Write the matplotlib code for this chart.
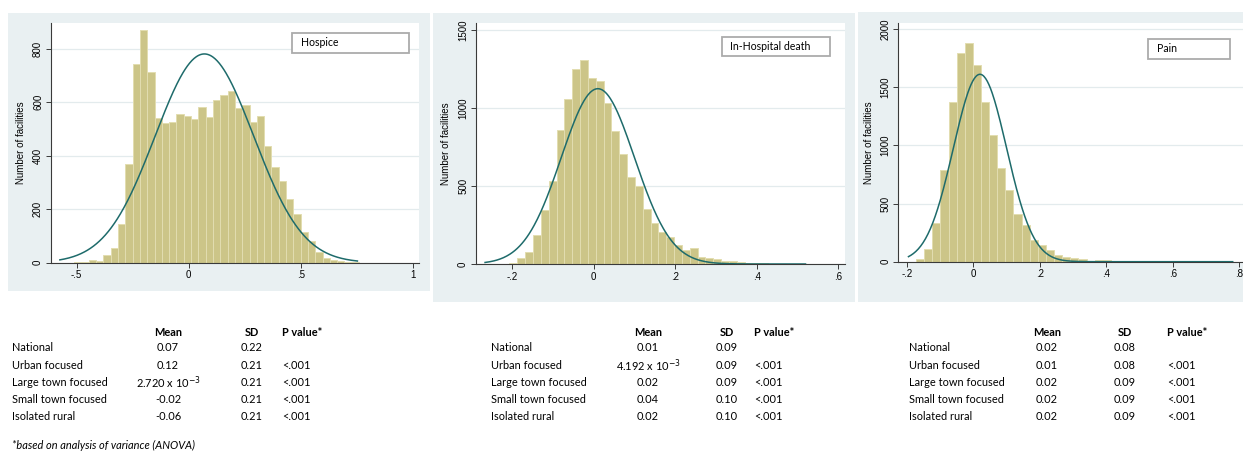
import matplotlib.pyplot as plt
import numpy as np
from matplotlib.patches import Rectangle

plt.rcParams['font.family'] = ['Liberation Sans', 'DejaVu Sans']

W, H = 1243, 453

# ---- histogram data (counts per bin) ----
hosp_start, hosp_width = -0.511, 0.0326
hosp_counts = [2, 4, 9, 6, 30, 55, 146, 369, 744, 871, 712, 540, 521, 525, 555,
               549, 536, 581, 547, 609, 626, 642, 578, 589, 525, 549, 436, 357,
               306, 237, 182, 115, 81, 39, 19, 11, 6, 4, 2]

death_start, death_width = -0.207, 0.01925
death_counts = [8, 36, 77, 186, 346, 534, 857, 1057, 1252, 1310, 1195, 1171, 1030,
                850, 703, 559, 500, 350, 264, 205, 170, 121, 88, 102, 47, 40, 32,
                20, 20, 12, 4, 7, 7, 3, 3, 2, 1, 1, 1]

pain_start, pain_width = -0.172, 0.0244
pain_counts = [26, 106, 332, 791, 1375, 1797, 1880, 1688, 1370, 1089, 805, 619, 413,
               312, 186, 143, 103, 57, 37, 34, 26, 10, 11, 11, 3, 2, 2, 1, 1, 1,
               1, 0, 1, 1, 0, 1, 0, 0, 1]

# range of the data covered by the normal curve
hosp_range = (-0.575, 0.753)
death_range = (-0.267, 0.52)
pain_range = (-0.195, 0.78)

titles = ["Hospice", "In-Hospital death", "Pain"]

# ---- table data ----
row_labels = ["National", "Urban focused", "Large town focused",
              "Small town focused", "Isolated rural"]
hosp_mean = ["0.07", "0.12", r"2.720 x 10$^{-3}$", "-0.02", "-0.06"]
hosp_sd = ["0.22", "0.21", "0.21", "0.21", "0.21"]
death_mean = ["0.01", r"4.192 x 10$^{-3}$", "0.02", "0.04", "0.02"]
death_sd = ["0.09", "0.09", "0.09", "0.10", "0.10"]
pain_mean = ["0.02", "0.01", "0.02", "0.02", "0.02"]
pain_sd = ["0.08", "0.08", "0.09", "0.09", "0.09"]
p_values = ["", "<.001", "<.001", "<.001", "<.001"]

# national mean / sd used for the normal overlay
nat_mean = [0.07, 0.01, 0.02]
nat_sd = [0.22, 0.09, 0.08]

BG = "#E9F0F2"
BAR = "#CCC588"
BAR_EDGE = "#E2DDB0"
CURVE = "#1E6B6B"
GRID = "#E3EBED"


def fx(x):
    return x / W


def fy(y):
    return 1 - y / H


fig = plt.figure(figsize=(W / 100, H / 100), dpi=100)

# grey panel backgrounds
for x0, x1, y0, y1 in [(8, 430, 13, 291), (433, 855, 13, 302), (858, 1243, 12, 302)]:
    fig.add_artist(Rectangle((fx(x0), fy(y1)), fx(x1 - x0), (y1 - y0) / H,
                             transform=fig.transFigure, facecolor=BG,
                             edgecolor="none", zorder=-1))

panels = [
    # plot box px: left, right, top, bottom ; xlim ; ylim top ; ticks
    dict(box=(50.7, 419, 23, 262.7), xlim=(-0.616, 1.028), ytop=897,
         xt=[-0.5, 0, 0.5, 1], xtl=["-.5", "0", ".5", "1"],
         yt=[0, 200, 400, 600, 800],
         start=hosp_start, width=hosp_width, counts=hosp_counts, rng=hosp_range,
         legend=(292, 409, 33, 53)),
    dict(box=(475.7, 845, 23.3, 264), xlim=(-0.290, 0.617), ytop=1543,
         xt=[-0.2, 0, 0.2, 0.4, 0.6], xtl=["-.2", "0", ".2", ".4", ".6"],
         yt=[0, 500, 1000, 1500],
         start=death_start, width=death_width, counts=death_counts, rng=death_range,
         legend=(722, 830, 37, 56)),
    dict(box=(898.3, 1243, 22.7, 261.7), xlim=(-0.2256, 0.811), ytop=2054,
         xt=[-0.2, 0, 0.2, 0.4, 0.6, 0.8], xtl=["-.2", "0", ".2", ".4", ".6", ".8"],
         yt=[0, 500, 1000, 1500, 2000],
         start=pain_start, width=pain_width, counts=pain_counts, rng=pain_range,
         legend=(1148, 1230, 39, 59)),
]

for i, p in enumerate(panels):
    l, r, t, b = p["box"]
    ax = fig.add_axes([fx(l), fy(b), fx(r - l), (b - t) / H])
    ax.set_facecolor("white")
    counts = np.array(p["counts"], dtype=float)
    edges = p["start"] + p["width"] * np.arange(len(counts))
    ax.bar(edges, counts, width=p["width"], align="edge", color=BAR,
           edgecolor=BAR_EDGE, linewidth=0.7, zorder=2)
    # normal density scaled to frequency
    xs = np.linspace(p["rng"][0], p["rng"][1], 400)
    m, s = nat_mean[i], nat_sd[i]
    ys = counts.sum() * p["width"] * np.exp(-0.5 * ((xs - m) / s) ** 2) / (s * np.sqrt(2 * np.pi))
    ax.plot(xs, ys, color=CURVE, lw=1.1, zorder=3)

    ax.set_xlim(*p["xlim"])
    ax.set_ylim(0, p["ytop"])
    ax.set_xticks(p["xt"])
    ax.set_xticklabels(p["xtl"])
    ax.set_yticks(p["yt"])
    for sp in ["top", "right"]:
        ax.spines[sp].set_visible(False)
    for sp in ["left", "bottom"]:
        ax.spines[sp].set_color("#3A3A3A")
        ax.spines[sp].set_linewidth(0.8)
    ax.tick_params(axis="both", direction="out", length=3.5, width=0.7,
                   color="#3A3A3A", labelsize=7, pad=2)
    plt.setp(ax.get_yticklabels(), rotation=90, va="center")
    ax.yaxis.grid(True, color=GRID, lw=0.9, zorder=0)
    ax.set_axisbelow(True)
    ax.set_ylabel("Number of facilities", fontsize=7, labelpad=5)

    # legend box
    lx0, lx1, ly0, ly1 = p["legend"]
    fig.add_artist(Rectangle((fx(lx0), fy(ly1)), fx(lx1 - lx0), (ly1 - ly0) / H,
                             transform=fig.transFigure, facecolor="white",
                             edgecolor="#ABABAB", linewidth=1.3, zorder=5))
    fig.text(fx(lx0 + 8.5), fy((ly0 + ly1) / 2), titles[i], fontsize=7.6,
             family="Lato", va="center", ha="left", zorder=6)

# ---- tables ----
row_y = [347.5, 365.5, 383, 399.5, 416]
head_y = 332
tables = [
    (12, 168, 252, 282, hosp_mean, hosp_sd),
    (490.7, 648, 727, 754.3, death_mean, death_sd),
    (909, 1047, 1125, 1166.7, pain_mean, pain_sd),
]
tfont = dict(fontsize=7.9, family="Lato", va="center")
for lab_x, mean_x, sd_x, p_x, means, sds in tables:
    fig.text(fx(mean_x), fy(head_y), "Mean", ha="center", weight="bold", **tfont)
    fig.text(fx(sd_x), fy(head_y), "SD", ha="center", weight="bold", **tfont)
    fig.text(fx(p_x), fy(head_y), "P value*", ha="left", weight="bold", **tfont)
    for j, y in enumerate(row_y):
        fig.text(fx(lab_x), fy(y), row_labels[j], ha="left", **tfont)
        fig.text(fx(mean_x), fy(y), means[j], ha="center", **tfont)
        fig.text(fx(sd_x), fy(y), sds[j], ha="center", **tfont)
        fig.text(fx(p_x), fy(y), p_values[j], ha="left", **tfont)

fig.text(fx(12), fy(445), "*based on analysis of variance (ANOVA)", ha="left",
         style="italic", **tfont)

fig.savefig("out.png", dpi=100)
